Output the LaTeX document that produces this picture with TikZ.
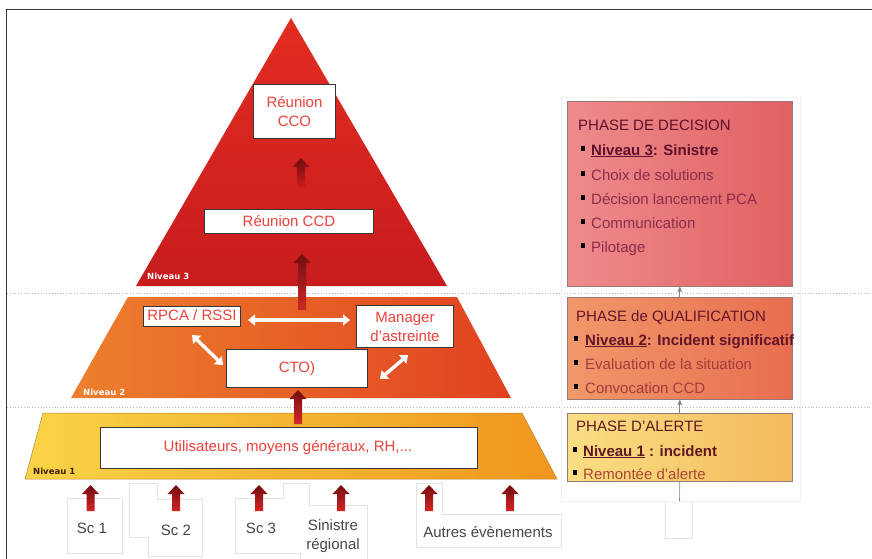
\documentclass[tikz,border=0pt]{standalone}
\usepackage{fontspec}
\setmainfont{Liberation Sans}
\newfontfamily\lvlfont{DejaVu Sans}
\usetikzlibrary{arrows.meta}

\definecolor{framegray}{RGB}{55,55,55}
\definecolor{dotgray}{RGB}{185,185,185}
\definecolor{faintline}{RGB}{226,226,226}
\definecolor{boxred}{RGB}{236,66,60}
\definecolor{tridark}{RGB}{200,28,30}
\definecolor{trilight}{RGB}{226,44,32}
\definecolor{midleft}{RGB}{237,128,46}
\definecolor{midright}{RGB}{224,66,32}
\definecolor{lowleft}{RGB}{249,212,70}
\definecolor{lowright}{RGB}{240,150,30}
\definecolor{arrowdark}{RGB}{112,14,16}
\definecolor{arrowred}{RGB}{214,36,36}
\definecolor{decleft}{RGB}{238,140,140}
\definecolor{decright}{RGB}{225,96,98}
\definecolor{qualleft}{RGB}{241,152,106}
\definecolor{qualright}{RGB}{231,110,80}
\definecolor{alertleft}{RGB}{250,222,132}
\definecolor{alertright}{RGB}{244,186,92}
\definecolor{dectitle}{RGB}{96,16,46}
\definecolor{decitem}{RGB}{140,44,78}
\definecolor{qualtitle}{RGB}{100,20,40}
\definecolor{qualitem}{RGB}{165,58,58}
\definecolor{alerttitle}{RGB}{95,24,34}
\definecolor{alertitem}{RGB}{170,72,52}

\tikzset{
  txt/.style={font=\fontsize{15}{19}\selectfont, inner sep=0pt},
  wbox/.style={draw=framegray, line width=0.9pt, fill=white, inner sep=0pt, anchor=north west},
  inbox/.style={txt, text=boxred, align=center},
  lvl/.style={font=\lvlfont\bfseries\fontsize{8.5}{10}\selectfont, inner sep=0pt, anchor=base west},
  phasebox/.style={draw={rgb,255:red,150;green,120;blue,120}, line width=0.6pt, inner sep=0pt, anchor=north west},
  line/.style={txt, anchor=base west},
  faint/.style={draw=faintline, line width=0.8pt},
  duplex/.style={white, line width=3.4pt, {Triangle[width=11pt,length=7pt]}-{Triangle[width=11pt,length=7pt]}},
  smallup/.style={draw=gray, line width=0.7pt, -{Stealth[length=6pt,width=5pt]}},
  lbl/.style={txt, text={rgb,255:red,70;green,70;blue,70}, anchor=base, align=center}
}

% shaded upward block arrow: x, tip y, bottom y, tip colour, tail colour
\newcommand\liftarrow[5]{%
  \shade[top color=#4, bottom color=#5]
    (#1-8.5,#2+9) -- (#1,#2) -- (#1+8.5,#2+9) -- (#1+4,#2+9)
    -- (#1+4,#3) -- (#1-4,#3) -- (#1-4,#2+9) -- cycle;}
% black square bullet in front of a list line
\newcommand\bul[1]{{\color{black}\rule[4.5pt]{4.2pt}{4.2pt}}\hspace{#1}}

\begin{document}
\begin{tikzpicture}[x=1pt, y=-1pt]
  \fill[white] (0,0) rectangle (872,559);
  \useasboundingbox (0,0) rectangle (872,559);

  % frame
  \draw[framegray, line width=1.2pt] (6.5,559) -- (6.5,9.5) -- (872,9.5);

  % level separators
  \draw[dotgray, line width=0.8pt, dotted] (7,293) -- (872,293);
  \draw[dotgray, line width=0.8pt, dotted] (7,407) -- (872,407);

  % pyramid
  \shade[top color=trilight, bottom color=tridark] (291,18) -- (447,286) -- (136,286) -- cycle;
  \shade[left color=midleft, right color=midright] (128,297) -- (457,297) -- (511,398) -- (71,398) -- cycle;
  \shade[left color=lowleft, right color=lowright, draw={rgb,255:red,190;green,130;blue,60}, line width=0.5pt]
    (43,413) -- (522,413) -- (557,479) -- (25,479) -- cycle;

  \node[lvl, text=white] (n3) at (147,279) {Niveau 3};
  \node[lvl, text=white] (n2) at (83,395) {Niveau 2};
  \node[lvl, text={rgb,255:red,60;green,30;blue,10}] (n1) at (33,474) {Niveau 1};

  % upward flow inside the pyramid
  \liftarrow{301}{158}{187}{arrowdark}{tridark}
  \liftarrow{302}{254}{310}{arrowdark}{{rgb,255:red,205;green,40;blue,40}}
  \liftarrow{298}{390}{424}{arrowdark}{{rgb,255:red,215;green,40;blue,40}}

  % boxes
  \node[wbox, minimum width=82pt, minimum height=54pt] (cco) at (253,84) {};
  \node[inbox] at (cco.center) {Réunion\\CCO};
  \node[wbox, minimum width=169pt, minimum height=24pt] (ccd) at (204,209) {};
  \node[inbox] at (ccd.center) {Réunion CCD};
  \node[wbox, minimum width=97pt, minimum height=20pt] (rpca) at (143,306) {};
  \node[inbox] at ([yshift=1pt]rpca.center) {RPCA / RSSI};
  \node[wbox, minimum width=97pt, minimum height=42pt] (mgr) at (356,305) {};
  \node[inbox] at (mgr.center) {Manager\\d'astreinte};
  \node[wbox, minimum width=141pt, minimum height=38pt] (cto) at (226,349) {};
  \node[inbox] at (cto.center) {CTO)};
  \node[wbox, minimum width=377pt, minimum height=41pt] (usr) at (100,427) {};
  \node[inbox] at ([xshift=-1pt]usr.center) {Utilisateurs, moyens généraux, RH,...};

  % exchanges between the level-2 roles
  \coordinate (h1) at (248,320); \coordinate (h2) at (350,320);
  \coordinate (d1) at (192,335); \coordinate (d2) at (223,365);
  \coordinate (e1) at (408,355); \coordinate (e2) at (380,379);
  \draw[duplex] (h1) -- (h2);
  \draw[duplex] (d1) -- (d2);
  \draw[duplex] (e1) -- (e2);

  % event sources below the pyramid
  \draw[faint] (67,553) -- (67,498) -- (122,498) -- (122,553) -- cycle;
  \draw[faint] (129,483) -- (157,483) -- (157,499) -- (202,499) -- (202,556) -- (148,556) -- (148,537) -- (129,537) -- cycle;
  \draw[faint] (235,553) -- (235,498) -- (283,498) -- (283,483) -- (309,483) -- (309,505) -- (367,505) -- (367,560);
  \draw[faint] (300,560) -- (300,553) -- (235,553);
  \draw[faint] (416,483) -- (442,483) -- (442,514) -- (561,514) -- (561,547) -- (416,547) -- cycle;

  \node[lbl] (sc1) at (92,533) {Sc 1};
  \node[lbl] (sc2) at (176,535) {Sc 2};
  \node[lbl] (sc3) at (261,533) {Sc 3};
  \node[lbl] (sin1) at (333,530) {Sinistre};
  \node[lbl] (sin2) at (333,549) {régional};
  \node[lbl] (aut) at (488,537) {Autres évènements};

  \liftarrow{90.5}{485}{511}{arrowdark}{arrowred}
  \liftarrow{176}{485}{511}{arrowdark}{arrowred}
  \liftarrow{259}{485}{511}{arrowdark}{arrowred}
  \liftarrow{341}{485}{511}{arrowdark}{arrowred}
  \liftarrow{429}{485}{511}{arrowdark}{arrowred}
  \liftarrow{510}{485}{511}{arrowdark}{arrowred}

  % phase panel
  \draw[draw={rgb,255:red,240;green,240;blue,240}, line width=0.8pt] (561,97) rectangle (800,501);
  \draw[faint] (665,501) -- (665,538) -- (692,538) -- (692,501);

  \node[phasebox, left color=decleft, right color=decright, minimum width=225pt, minimum height=185pt] (dec) at (567,101) {};
  \node[phasebox, left color=qualleft, right color=qualright, minimum width=225pt, minimum height=102pt] (qual) at (567,297) {};
  \node[phasebox, left color=alertleft, right color=alertright, minimum width=225pt, minimum height=68pt] (alert) at (567,413) {};

  \draw[smallup] (qual.north) -- (dec.south);
  \draw[smallup] (alert.north) -- (qual.south);
  \draw[draw=gray, line width=0.6pt] (alert.south) -- (679.5,501);

  \node[line, text=dectitle] (dt) at (578,131) {PHASE DE DECISION};
  \node[line, text=dectitle] (d1t) at (580.5,155) {\bul{6.3pt}\bfseries\underline{Niveau 3}: Sinistre};
  \node[line, text=decitem] (d2t) at (580.5,180) {\bul{6.3pt}Choix de solutions};
  \node[line, text=decitem] (d3t) at (580.5,204) {\bul{6.3pt}Décision lancement PCA};
  \node[line, text=decitem] (d4t) at (580.5,228) {\bul{6.3pt}Communication};
  \node[line, text=decitem] (d5t) at (580.5,252) {\bul{6.3pt}Pilotage};

  \node[line, text=qualtitle] (qt) at (576,321) {PHASE de QUALIFICATION};
  \node[line, text=qualtitle] (q1t) at (574,345) {\bul{6.8pt}\bfseries\underline{Niveau 2}: Incident significatif};
  \node[line, text=qualitem] (q2t) at (574,369) {\bul{6.8pt}Evaluation de la situation};
  \node[line, text=qualitem] (q3t) at (574,393) {\bul{6.8pt}Convocation CCD};

  \node[line, text=alerttitle] (at) at (576,431) {PHASE D’ALERTE};
  \node[line, text=alerttitle] (a1t) at (573,456) {\bul{5.8pt}\bfseries\underline{Niveau 1} : incident};
  \node[line, text=alertitem] (a2t) at (573,479) {\bul{5.8pt}Remontée d’alerte};
\end{tikzpicture}
\end{document}
